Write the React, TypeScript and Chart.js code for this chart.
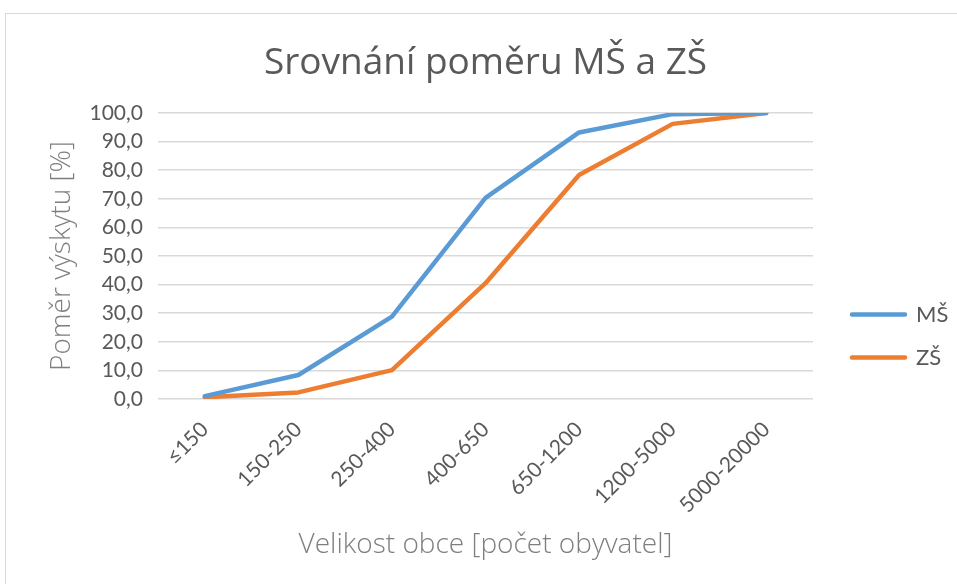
import React, { useEffect, useRef } from "react";
import { Chart, registerables } from "chart.js";

Chart.register(...registerables);

const categories = ["≤150", "150-250", "250-400", "400-650", "650-1200", "1200-5000", "5000-20000"];
const msValues = [1.0, 8.4, 28.8, 70.3, 93.2, 99.6, 100.0];
const zsValues = [0.6, 2.3, 10.1, 40.5, 78.3, 96.2, 100.0];
const seriesNames = ["MŠ", "ZŠ"];
const titleText = "Srovnání poměru MŠ a ZŠ";
const xTitle = "Velikost obce [počet obyvatel]";
const yTitle = "Poměr výskytu [%]";

const FONT = "Lato, 'Open Sans', sans-serif";
const TFONT = "'Open Sans', Lato, sans-serif";
const TEXT = "#595959";
const AXTITLE = "#7f7f7f";

export default function App() {
  const ref = useRef<HTMLCanvasElement>(null);

  useEffect(() => {
    if (!ref.current) return;
    const chart = new Chart(ref.current, {
      type: "line",
      data: {
        labels: categories,
        datasets: [
          {
            label: seriesNames[0],
            data: msValues,
            borderColor: "#5B9BD5",
            backgroundColor: "#5B9BD5",
            borderWidth: 4.5,
            pointRadius: 0,
            borderJoinStyle: "round",
            borderCapStyle: "round",
            tension: 0,
          },
          {
            label: seriesNames[1],
            data: zsValues,
            borderColor: "#ED7D31",
            backgroundColor: "#ED7D31",
            borderWidth: 4.5,
            pointRadius: 0,
            borderJoinStyle: "round",
            borderCapStyle: "round",
            tension: 0,
          },
        ],
      },
      options: {
        responsive: false,
        animation: false,
        layout: { padding: { left: 0, right: 0, top: 0, bottom: 0 } },
        plugins: {
          title: {
            display: true,
            fullSize: false,
            text: titleText,
            color: TEXT,
            font: { family: TFONT, size: 37, weight: "normal" },
            padding: { top: 41, bottom: 27.6 },
          },
          legend: {
            position: "right",
            align: "center",
            maxWidth: 126,
            title: {
              display: true,
              text: " ",
              font: { size: 1 },
              padding: { top: 87, bottom: 0 },
            },
            labels: {
              color: TEXT,
              font: { family: FONT, size: 22 },
              boxWidth: 53,
              boxHeight: 0,
              padding: 21,
            },
          },
          tooltip: { enabled: false },
        },
        scales: {
          x: {
            offset: true,
            grid: { display: false, drawTicks: false },
            border: { display: false },
            ticks: {
              color: TEXT,
              font: { family: FONT, size: 21 },
              minRotation: 45,
              maxRotation: 45,
              padding: 18,
            },
            title: {
              display: true,
              text: xTitle,
              color: AXTITLE,
              font: { family: TFONT, size: 28, weight: "300" },
              padding: { top: 0, bottom: 22 },
            },
            afterFit: (s: any) => {
              s.height = 185;
            },
          },
          y: {
            min: 0,
            max: 100,
            grid: { color: "#d9d9d9", lineWidth: 1.5, drawTicks: false },
            border: { display: false },
            ticks: {
              stepSize: 10,
              color: TEXT,
              font: { family: FONT, size: 21 },
              padding: 15,
              callback: (v: any) => Number(v).toFixed(1).replace(".", ","),
            },
            title: {
              display: true,
              text: yTitle,
              color: AXTITLE,
              font: { family: TFONT, size: 28, weight: "300" },
              padding: { top: 45, bottom: 0 },
            },
            afterFit: (s: any) => {
              s.width = 158;
            },
          },
          spacer: {
            type: "linear",
            position: "right",
            display: true,
            grid: { display: false, drawTicks: false },
            border: { display: false },
            ticks: { display: false },
            afterFit: (s: any) => {
              s.width = 18;
            },
          },
        },
      },
    });
    return () => chart.destroy();
  }, []);

  return (
    <div
      style={{
        position: "fixed",
        left: 0,
        top: 0,
        width: 957,
        height: 584,
        overflow: "hidden",
        background: "#fff",
      }}
    >
      <div
        style={{
          position: "absolute",
          left: 5,
          top: 13,
          width: 1000,
          height: 700,
          border: "1.5px solid #d9d9d9",
        }}
      />
      <canvas
        ref={ref}
        width={957}
        height={584}
        style={{ position: "absolute", left: 0, top: 0 }}
      />
    </div>
  );
}
